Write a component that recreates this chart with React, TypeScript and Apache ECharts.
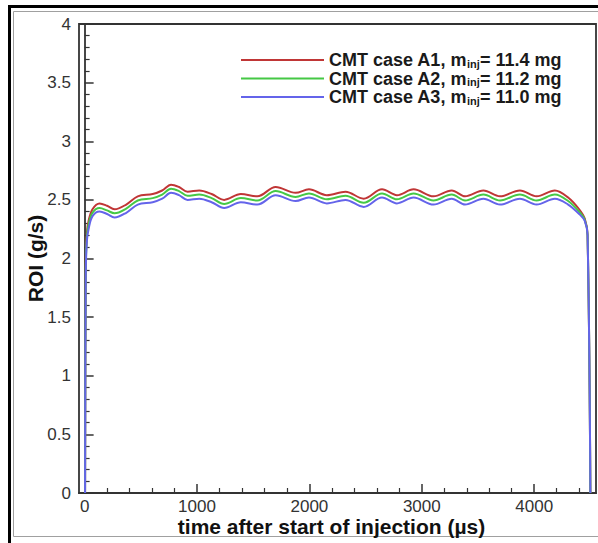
import React, { useEffect, useRef } from "react";
import * as echarts from "echarts";

const CASES = ["CMT case A1", "CMT case A2", "CMT case A3"];
const MASSES = ["11.4 mg", "11.2 mg", "11.0 mg"];
const COLORS = ["#c03636", "#45c845", "#6464ea"];

const TIME = [4, 10, 20, 35, 70, 133, 200, 266, 370, 473, 606, 690, 769, 840, 916, 1020, 1130, 1242, 1390, 1537, 1700, 1877, 1996, 2155, 2321, 2483, 2646, 2779, 2927, 3104, 3266, 3385, 3548, 3696, 3873, 4021, 4184, 4302, 4400, 4450, 4475, 4500];

const ROI_A1 = [0, 1.95, 2.22, 2.32, 2.42, 2.47, 2.45, 2.42, 2.46, 2.53, 2.55, 2.58, 2.63, 2.61, 2.57, 2.58, 2.55, 2.5, 2.55, 2.53, 2.61, 2.56, 2.59, 2.54, 2.57, 2.51, 2.59, 2.54, 2.59, 2.53, 2.58, 2.53, 2.58, 2.53, 2.58, 2.53, 2.58, 2.52, 2.42, 2.34, 2.2, 0];
const ROI_A2 = [0, 1.9, 2.18, 2.29, 2.39, 2.43, 2.41, 2.385, 2.425, 2.495, 2.515, 2.545, 2.595, 2.575, 2.535, 2.545, 2.515, 2.465, 2.515, 2.495, 2.575, 2.525, 2.555, 2.505, 2.535, 2.475, 2.555, 2.505, 2.555, 2.495, 2.545, 2.495, 2.545, 2.495, 2.545, 2.495, 2.545, 2.49, 2.4, 2.33, 2.2, 0];
const ROI_A3 = [0, 1.85, 2.15, 2.25, 2.36, 2.4, 2.38, 2.35, 2.39, 2.46, 2.48, 2.51, 2.56, 2.54, 2.5, 2.51, 2.48, 2.43, 2.48, 2.46, 2.54, 2.49, 2.52, 2.47, 2.5, 2.44, 2.52, 2.47, 2.52, 2.46, 2.51, 2.46, 2.51, 2.46, 2.51, 2.46, 2.51, 2.46, 2.38, 2.32, 2.2, 0];

const SERIES_VALUES = [ROI_A1, ROI_A2, ROI_A3];

const X_MIN = -50;
const X_MAX = 4550;
const X_TICK_MAX = 5000;
const Y_MIN = 0;
const Y_MAX = 4;

const W = 598;
const H = 543;
const FONT = "'Liberation Sans', Arial, Helvetica, sans-serif";

export default function App() {
  const ref = useRef<HTMLDivElement>(null);
  useEffect(() => {
    if (!ref.current) return;
    const chart = echarts.init(ref.current, null, { renderer: "svg" });

    const gLeft = 79;
    const gRight = 2;
    const gTop = 24;
    const gBottom = 50;
    const gWidth = W - gLeft - gRight;
    const pxPerUnit = gWidth / (X_MAX - X_MIN);
    const g2Left = gLeft + (0 - X_MIN) * pxPerUnit;
    const g2Width = (X_TICK_MAX - 0) * pxPerUnit;

    const legendMap: Record<string, string> = {};
    CASES.forEach((c, i) => {
      legendMap[c] = `{b|${c}, m}{s|inj}{b|= ${MASSES[i]}}`;
    });

    chart.setOption({
      animation: false,
      backgroundColor: "#ffffff",
      textStyle: { fontFamily: FONT },
      grid: [
        {
          left: gLeft,
          right: gRight,
          top: gTop,
          bottom: gBottom,
          show: true,
          borderColor: "#333",
          borderWidth: 1.8,
          backgroundColor: "transparent",
          outerBoundsMode: "none",
        },
        {
          left: g2Left,
          width: g2Width,
          top: gTop,
          bottom: gBottom,
          show: false,
          outerBoundsMode: "none",
        },
      ],
      legend: {
        orient: "vertical",
        left: 236,
        top: 46,
        itemWidth: 83,
        itemHeight: 2,
        itemGap: 0.5,
        itemTextGap: 16,
        icon: "rect",
        data: CASES,
        formatter: (name: string) => legendMap[name] || name,
        textStyle: {
          fontFamily: FONT,
          rich: {
            b: { fontSize: 18, fontWeight: "bold", color: "#1a1a1a", fontFamily: FONT, lineHeight: 18 },
            s: { fontSize: 11, fontWeight: "bold", color: "#1a1a1a", fontFamily: FONT, verticalAlign: "bottom", lineHeight: 11 },
          },
        },
      },
      xAxis: [
        {
          type: "value",
          gridIndex: 0,
          min: X_MIN,
          max: X_MAX,
          name: "time after start of injection (\u00b5s)",
          nameLocation: "middle",
          nameGap: 23,
          nameMoveOverlap: false,
          nameTextStyle: { fontSize: 21, fontWeight: "bold", color: "#111", fontFamily: FONT, padding: [0, 12, 0, 0] },
          axisLine: { show: true, lineStyle: { color: "#333", width: 1.8 } },
          axisTick: { show: false },
          axisLabel: { show: false },
          splitLine: { show: false },
        },
        {
          type: "value",
          gridIndex: 1,
          min: 0,
          max: X_TICK_MAX,
          interval: 1000,
          axisLine: { show: false },
          axisTick: { show: true, inside: true, length: 9, lineStyle: { color: "#333", width: 1.5 } },
          minorTick: { show: true, splitNumber: 5, length: 5, lineStyle: { color: "#333", width: 1.2 } },
          axisLabel: {
            show: true,
            fontSize: 17,
            color: "#333",
            margin: 5,
            fontFamily: FONT,
            showMaxLabel: false,
            formatter: (v: number) => String(v),
          },
          splitLine: { show: false },
        },
      ],
      yAxis: [
        {
          type: "value",
          gridIndex: 0,
          min: Y_MIN,
          max: Y_MAX,
          interval: 0.5,
          name: "ROI (g/s)",
          nameLocation: "middle",
          nameGap: 33,
          nameMoveOverlap: false,
          nameRotate: 90,
          nameTextStyle: { fontSize: 21, fontWeight: "bold", color: "#111", fontFamily: FONT },
          axisLine: { show: true, lineStyle: { color: "#333", width: 1.8 } },
          axisTick: { show: true, inside: true, length: 9, lineStyle: { color: "#333", width: 1.5 } },
          minorTick: { show: true, splitNumber: 5, length: 5, lineStyle: { color: "#333", width: 1.2 } },
          axisLabel: { fontSize: 17, color: "#333", margin: 8, fontFamily: FONT },
          splitLine: { show: false },
        },
        { type: "value", gridIndex: 1, min: Y_MIN, max: Y_MAX, show: false },
      ],
      series: CASES.map((name, i) => ({
        name,
        type: "line",
        xAxisIndex: 0,
        yAxisIndex: 0,
        showSymbol: false,
        symbol: "none",
        smooth: 0.35,
        color: COLORS[i],
        lineStyle: { color: COLORS[i], width: 2 },
        data: TIME.map((t, j) => [t, SERIES_VALUES[i][j]]),
        z: 3 + i,
      })),
      graphic: [
        {
          type: "rect",
          shape: { x: 9.5, y: 6.5, width: 700, height: 700 },
          style: { fill: "none", stroke: "#000", lineWidth: 3 },
          silent: true,
        },
        {
          type: "rect",
          shape: { x: 13.5, y: 11.5, width: 700, height: 525 },
          style: { fill: "none", stroke: "#a0a0a0", lineWidth: 1 },
          silent: true,
        },
      ],
    });
    return () => chart.dispose();
  }, []);
  return (
    <div
      ref={ref}
      style={{ position: "fixed", left: 0, top: 0, width: W, height: H, background: "#fff" }}
    />
  );
}
